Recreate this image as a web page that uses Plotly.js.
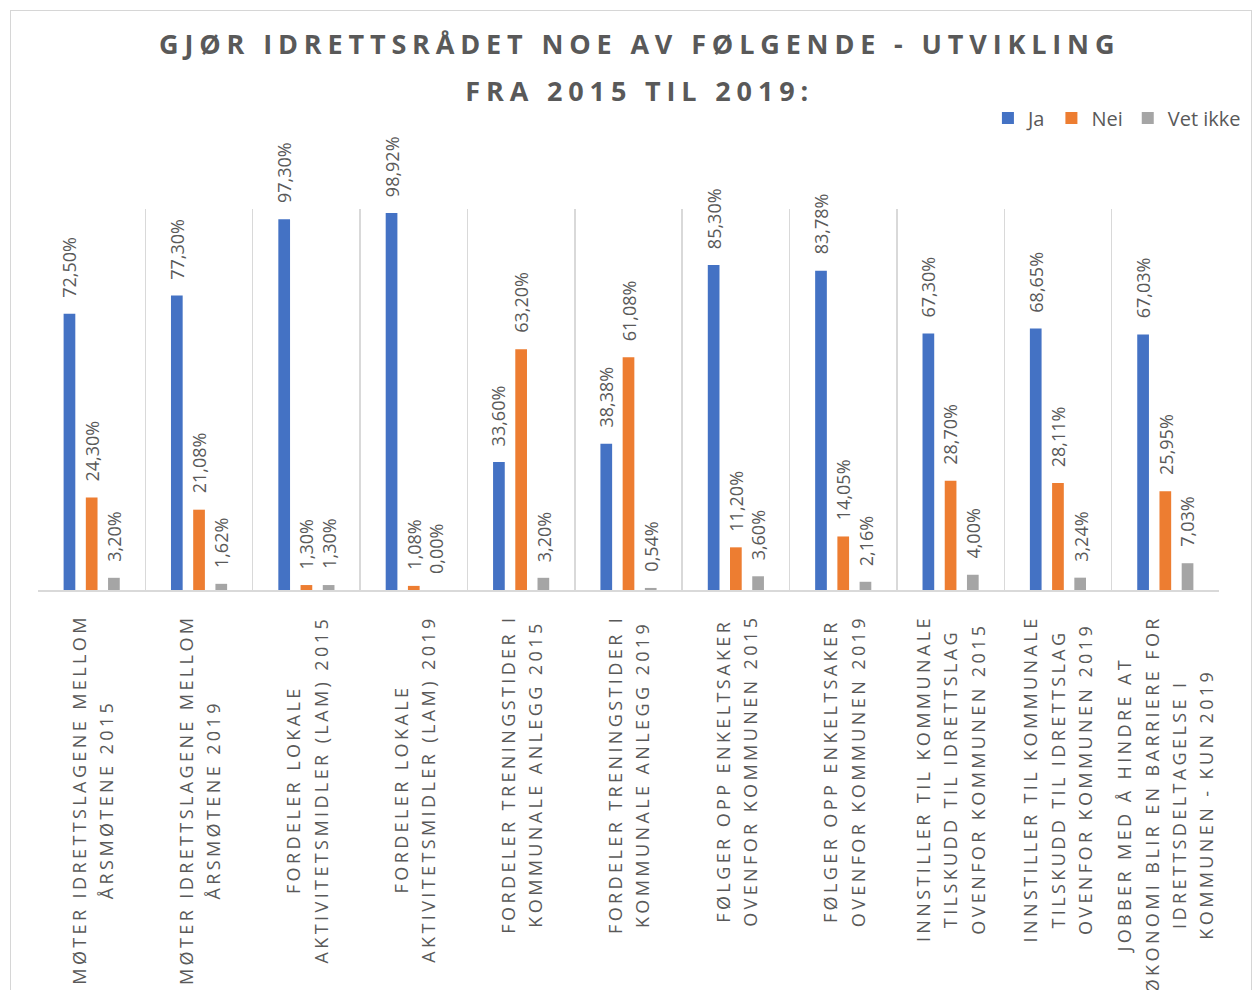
<!DOCTYPE html>
<html>
<head>
<meta charset="utf-8">
<script src="https://cdn.plot.ly/plotly-3.0.1.min.js"></script>
<style>
  html, body { margin: 0; padding: 0; overflow: hidden; background: #ffffff; }
  #chart { position: absolute; left: 0; top: 0; width: 1258px; height: 990px; }
  #frame { position: absolute; left: 10px; top: 10px; width: 1242px; height: 1000px;
           border: 1px solid #d6d6d6; pointer-events: none; box-sizing: border-box; }
</style>
</head>
<body>
<div id="chart"></div>
<div id="frame"></div>
<script>
// ---- data ----
const categories = [
  "MØTER IDRETTSLAGENE MELLOM<br>ÅRSMØTENE 2015",
  "MØTER IDRETTSLAGENE MELLOM<br>ÅRSMØTENE 2019",
  "FORDELER LOKALE<br>AKTIVITETSMIDLER (LAM) 2015",
  "FORDELER LOKALE<br>AKTIVITETSMIDLER (LAM) 2019",
  "FORDELER TRENINGSTIDER I<br>KOMMUNALE ANLEGG 2015",
  "FORDELER TRENINGSTIDER I<br>KOMMUNALE ANLEGG 2019",
  "FØLGER OPP ENKELTSAKER<br>OVENFOR KOMMUNEN 2015",
  "FØLGER OPP ENKELTSAKER<br>OVENFOR KOMMUNEN 2019",
  "INNSTILLER TIL KOMMUNALE<br>TILSKUDD TIL IDRETTSLAG<br>OVENFOR KOMMUNEN 2015",
  "INNSTILLER TIL KOMMUNALE<br>TILSKUDD TIL IDRETTSLAG<br>OVENFOR KOMMUNEN 2019",
  "JOBBER MED Å HINDRE AT<br>ØKONOMI BLIR EN BARRIERE FOR<br>IDRETTSDELTAGELSE I<br>KOMMUNEN - KUN 2019"
];
const seriesNames = ["Ja", "Nei", "Vet ikke"];
const ja     = [72.50, 77.30, 97.30, 98.92, 33.60, 38.38, 85.30, 83.78, 67.30, 68.65, 67.03];
const nei    = [24.30, 21.08,  1.30,  1.08, 63.20, 61.08, 11.20, 14.05, 28.70, 28.11, 25.95];
const vetIkke= [ 3.20,  1.62,  1.30,  0.00,  3.20,  0.54,  3.60,  2.16,  4.00,  3.24,  7.03];
const titleLines = ["GJØR IDRETTSRÅDET NOE AV FØLGENDE - UTVIKLING", "FRA 2015 TIL 2019:"];

// ---- styling ----
const colors = ["#4472c4", "#ed7d31", "#a5a5a5"];
const textGrey = "#595959";
const FONT = "Open Sans, Noto Sans, sans-serif";
const barWidth = 0.109;
const centers = [-0.207, 0, 0.207];
const seriesValues = [ja, nei, vetIkke];

const idx = categories.map((c, i) => i);
const traces = seriesValues.map((vals, s) => ({
  type: "bar",
  name: seriesNames[s],
  x: idx,
  y: vals,
  width: barWidth,
  offset: centers[s] - barWidth / 2,
  marker: { color: colors[s] },
  hoverinfo: "skip"
}));

const fmt = v => v.toFixed(2).replace(".", ",") + "%";

const annotations = [];
// data labels
seriesValues.forEach((vals, s) => {
  vals.forEach((v, i) => {
    annotations.push({
      xref: "x", yref: "y", x: i + centers[s], y: v,
      text: fmt(v), textangle: -90, showarrow: false,
      xanchor: "center", yanchor: "bottom", yshift: 14,
      font: { family: FONT, size: 18, color: textGrey }
    });
  });
});
// category labels
categories.forEach((c, i) => {
  const txt = c.split("<br>").map(l =>
    '<span style="font-size:18px;letter-spacing:3.4px">' + l + '</span>').join("<br>");
  annotations.push({
    xref: "x", yref: "paper", x: i, y: 0,
    text: txt, textangle: -90, showarrow: false, align: "center",
    xanchor: "center", yanchor: "top", yshift: -23,
    font: { family: FONT, size: 21, color: textGrey }
  });
});

const titleText = titleLines.map(l =>
  '<span style="font-size:27px;letter-spacing:5.85px">' + l + '</span>').join("<br>");

const layout = {
  width: 1258, height: 990,
  margin: { l: 38, r: 35, t: 209, b: 400, pad: 0 },
  paper_bgcolor: "rgba(0,0,0,0)",
  plot_bgcolor: "rgba(0,0,0,0)",
  title: {
    text: titleText,
    font: { family: FONT, size: 36, color: textGrey, weight: 700 },
    xref: "container", yref: "container",
    x: 0.5085, xanchor: "center",
    y: 0.9457, yanchor: "top"
  },
  showlegend: true,
  legend: {
    orientation: "h",
    xref: "paper", yref: "paper",
    x: 1.0228, xanchor: "right",
    y: 1.239, yanchor: "middle",
    font: { family: FONT, size: 20, color: textGrey },
    bgcolor: "rgba(0,0,0,0)",
    itemwidth: 30,
    traceorder: "normal"
  },
  xaxis: {
    type: "linear",
    range: [-0.5, categories.length - 0.5],
    tickvals: idx.map(i => i - 0.5).concat([categories.length - 0.5]),
    showticklabels: false,
    ticks: "",
    showgrid: true, gridcolor: "#d9d9d9", gridwidth: 1.5,
    showline: true, linecolor: "#d9d9d9", linewidth: 1.5,
    zeroline: false, fixedrange: true
  },
  yaxis: {
    range: [0, 100],
    showgrid: false, showticklabels: false, zeroline: false, showline: false,
    ticks: "", fixedrange: true
  },
  barmode: "group",
  annotations: annotations
};

Plotly.newPlot("chart", traces, layout, { displayModeBar: false, staticPlot: true });
</script>
</body>
</html>
